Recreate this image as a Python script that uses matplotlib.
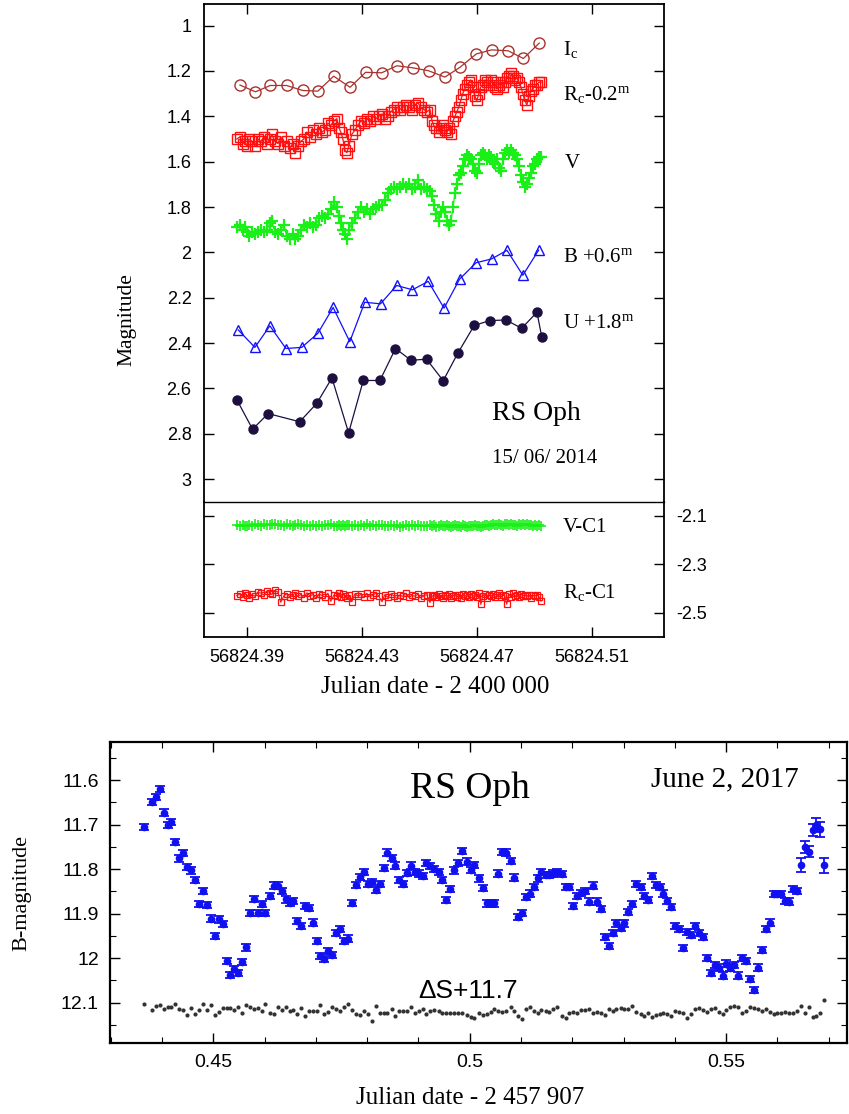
import matplotlib
matplotlib.use("Agg")
import matplotlib.pyplot as plt
from matplotlib.ticker import MultipleLocator, FixedLocator, FuncFormatter, FormatStrFormatter

plt.rcParams['font.family'] = ['Liberation Sans', 'DejaVu Sans']
plt.rcParams['axes.unicode_minus'] = False
plt.rcParams['mathtext.fontset'] = 'custom'
plt.rcParams['mathtext.rm'] = 'Liberation Serif'
plt.rcParams['mathtext.it'] = 'Liberation Serif:italic'
plt.rcParams['mathtext.bf'] = 'Liberation Serif:bold'
SERIF = ['Liberation Serif', 'DejaVu Serif']

# ---- RS Oph, 15/06/2014 : times are JD - 2456824 ----
JD0 = 56824.0

t_ic = [0.3877, 0.3931, 0.3982, 0.4039, 0.4095, 0.4148, 0.4203, 0.4260, 0.4314, 0.4370,
        0.4423, 0.4478, 0.4533, 0.4590, 0.4642, 0.4699, 0.4752, 0.4810, 0.4863, 0.4918]
ic = [1.262, 1.292, 1.264, 1.264, 1.286, 1.289, 1.223, 1.272, 1.206, 1.208,
      1.177, 1.186, 1.199, 1.227, 1.184, 1.125, 1.107, 1.111, 1.145, 1.077]

t_b = [0.3871, 0.3929, 0.3981, 0.4037, 0.4092, 0.4148, 0.4201, 0.4259, 0.4311, 0.4366,
       0.4422, 0.4477, 0.4532, 0.4587, 0.4641, 0.4698, 0.4752, 0.4806, 0.4861, 0.4916]
b_shift = [2.342, 2.419, 2.324, 2.424, 2.419, 2.357, 2.243, 2.394, 2.220, 2.227,
           2.146, 2.165, 2.128, 2.246, 2.118, 2.046, 2.029, 1.991, 2.101, 1.990]

t_u = [0.3867, 0.3921, 0.3975, 0.4085, 0.4144, 0.4197, 0.4255, 0.4306, 0.4364, 0.4418,
       0.4472, 0.4526, 0.4584, 0.4636, 0.4692, 0.4746, 0.4802, 0.4857, 0.4910, 0.4927]
u_shift = [2.652, 2.780, 2.711, 2.747, 2.666, 2.554, 2.796, 2.565, 2.565, 2.424,
           2.476, 2.471, 2.566, 2.442, 2.322, 2.301, 2.298, 2.335, 2.264, 2.374]

# dense Rc / V photometry (same time stamps)
t_rv = [0.3866, 0.3877, 0.3887, 0.3894, 0.3901, 0.3908, 0.3918, 0.3929, 0.3939, 0.3950,
        0.3960, 0.3971, 0.3981, 0.3988, 0.3998, 0.4009, 0.4019, 0.4030, 0.4040, 0.4051,
        0.4061, 0.4068, 0.4078, 0.4089, 0.4099, 0.4110, 0.4120, 0.4131, 0.4141, 0.4152,
        0.4162, 0.4172, 0.4183, 0.4193, 0.4204, 0.4214, 0.4221, 0.4228, 0.4235, 0.4242,
        0.4249, 0.4256, 0.4266, 0.4277, 0.4287, 0.4298, 0.4308, 0.4318, 0.4329, 0.4339,
        0.4350, 0.4360, 0.4371, 0.4381, 0.4391, 0.4402, 0.4412, 0.4423, 0.4433, 0.4444,
        0.4454, 0.4465, 0.4475, 0.4485, 0.4496, 0.4506, 0.4517, 0.4527, 0.4538, 0.4545,
        0.4551, 0.4558, 0.4569, 0.4576, 0.4583, 0.4590, 0.4597, 0.4604, 0.4611, 0.4618,
        0.4625, 0.4631, 0.4638, 0.4645, 0.4652, 0.4659, 0.4666, 0.4673, 0.4680, 0.4687,
        0.4694, 0.4701, 0.4708, 0.4715, 0.4722, 0.4729, 0.4736, 0.4743, 0.4750, 0.4757,
        0.4764, 0.4771, 0.4778, 0.4785, 0.4792, 0.4798, 0.4805, 0.4812, 0.4819, 0.4826,
        0.4833, 0.4840, 0.4847, 0.4854, 0.4861, 0.4868, 0.4875, 0.4882, 0.4889, 0.4896,
        0.4903, 0.4910, 0.4917, 0.4924]
rc_shift = [1.50, 1.49, 1.52, 1.51, 1.53, 1.50, 1.51, 1.53, 1.50, 1.51,
            1.49, 1.52, 1.50, 1.48, 1.51, 1.52, 1.49, 1.53, 1.51, 1.54,
            1.52, 1.56, 1.53, 1.51, 1.50, 1.47, 1.49, 1.46, 1.48, 1.45,
            1.47, 1.46, 1.43, 1.44, 1.42, 1.41, 1.45, 1.47, 1.50, 1.55,
            1.56, 1.53, 1.48, 1.46, 1.44, 1.42, 1.43, 1.41, 1.42, 1.40,
            1.41, 1.40, 1.39, 1.41, 1.40, 1.38, 1.37, 1.36, 1.37, 1.36,
            1.35, 1.36, 1.37, 1.35, 1.34, 1.36, 1.37, 1.38, 1.37, 1.42,
            1.44, 1.45, 1.47, 1.45, 1.44, 1.46, 1.47, 1.45, 1.48, 1.42,
            1.40, 1.38, 1.36, 1.33, 1.30, 1.28, 1.26, 1.25, 1.24, 1.27,
            1.31, 1.33, 1.30, 1.27, 1.26, 1.24, 1.25, 1.26, 1.24, 1.25,
            1.27, 1.28, 1.26, 1.25, 1.27, 1.25, 1.23, 1.22, 1.21, 1.22,
            1.24, 1.23, 1.25, 1.27, 1.30, 1.33, 1.35, 1.31, 1.29, 1.28,
            1.26, 1.26, 1.25, 1.25]
v = [1.89, 1.88, 1.90, 1.89, 1.91, 1.93, 1.91, 1.92, 1.91, 1.90,
     1.91, 1.90, 1.87, 1.86, 1.91, 1.92, 1.90, 1.88, 1.93, 1.94,
     1.92, 1.94, 1.93, 1.90, 1.88, 1.89, 1.87, 1.89, 1.88, 1.85,
     1.84, 1.85, 1.83, 1.81, 1.78, 1.80, 1.84, 1.87, 1.90, 1.92,
     1.94, 1.90, 1.87, 1.85, 1.82, 1.80, 1.82, 1.81, 1.83, 1.81,
     1.80, 1.79, 1.79, 1.77, 1.74, 1.72, 1.71, 1.72, 1.71, 1.70,
     1.71, 1.70, 1.72, 1.71, 1.68, 1.72, 1.71, 1.72, 1.73, 1.75,
     1.79, 1.83, 1.86, 1.82, 1.80, 1.82, 1.86, 1.88, 1.86, 1.80,
     1.74, 1.70, 1.66, 1.65, 1.62, 1.59, 1.57, 1.58, 1.59, 1.61,
     1.64, 1.65, 1.61, 1.57, 1.56, 1.57, 1.59, 1.57, 1.58, 1.60,
     1.61, 1.59, 1.63, 1.64, 1.59, 1.56, 1.55, 1.56, 1.55, 1.56,
     1.57, 1.59, 1.62, 1.66, 1.69, 1.71, 1.70, 1.67, 1.65, 1.62,
     1.61, 1.59, 1.58, 1.58]

v_c1 = [-2.140, -2.143, -2.138, -2.142, -2.145, -2.139, -2.141, -2.136, -2.138, -2.142,
        -2.135, -2.137, -2.140, -2.136, -2.134, -2.139, -2.137, -2.141, -2.135, -2.138,
        -2.142, -2.139, -2.136, -2.140, -2.143, -2.138, -2.141, -2.137, -2.144, -2.139,
        -2.142, -2.138, -2.140, -2.136, -2.141, -2.145, -2.139, -2.142, -2.138, -2.143,
        -2.140, -2.137, -2.141, -2.139, -2.144, -2.138, -2.141, -2.136, -2.142, -2.139,
        -2.145, -2.140, -2.137, -2.141, -2.143, -2.138, -2.142, -2.140, -2.146, -2.141,
        -2.139, -2.144, -2.140, -2.143, -2.138, -2.141, -2.145, -2.142, -2.139, -2.143,
        -2.140, -2.146, -2.142, -2.138, -2.141, -2.144, -2.140, -2.143, -2.147, -2.141,
        -2.139, -2.144, -2.142, -2.146, -2.140, -2.143, -2.148, -2.141, -2.145, -2.142,
        -2.139, -2.144, -2.141, -2.146, -2.143, -2.140, -2.138, -2.142, -2.139, -2.136,
        -2.140, -2.137, -2.135, -2.139, -2.141, -2.136, -2.133, -2.138, -2.135, -2.140,
        -2.137, -2.141, -2.134, -2.138, -2.136, -2.139, -2.135, -2.140, -2.137, -2.141,
        -2.139, -2.142, -2.140, -2.143]
rc_c1 = [-2.430, -2.422, -2.435, -2.418, -2.428, -2.440, -2.425, -2.432, -2.415, -2.420,
         -2.427, -2.410, -2.418, -2.425, -2.408, -2.415, -2.457, -2.430, -2.422, -2.436,
         -2.428, -2.420, -2.433, -2.425, -2.438, -2.418, -2.430, -2.426, -2.441, -2.423,
         -2.429, -2.435, -2.420, -2.453, -2.427, -2.432, -2.418, -2.436, -2.425, -2.430,
         -2.440, -2.428, -2.455, -2.422, -2.431, -2.425, -2.437, -2.420, -2.434, -2.429,
         -2.418, -2.432, -2.455, -2.426, -2.436, -2.423, -2.430, -2.441, -2.427, -2.433,
         -2.420, -2.437, -2.429, -2.432, -2.424, -2.439, -2.430, -2.426, -2.458, -2.433,
         -2.428, -2.436, -2.422, -2.431, -2.440, -2.427, -2.433, -2.425, -2.438, -2.430,
         -2.426, -2.435, -2.429, -2.441, -2.424, -2.432, -2.428, -2.437, -2.423, -2.431,
         -2.429, -2.436, -2.418, -2.466, -2.430, -2.422, -2.438, -2.426, -2.433, -2.424,
         -2.437, -2.429, -2.420, -2.435, -2.428, -2.431, -2.465, -2.425, -2.434, -2.419,
         -2.432, -2.428, -2.437, -2.423, -2.430, -2.426, -2.433, -2.427, -2.438, -2.429,
         -2.431, -2.426, -2.434, -2.452]

# ---- RS Oph, June 2, 2017 : times are JD - 2457907 ----
t_b17 = [0.43656, 0.43799, 0.43877, 0.43955, 0.44032, 0.44110, 0.44175, 0.44253, 0.44338, 0.44416,
         0.44494, 0.44565, 0.44649, 0.44721, 0.44799, 0.44877, 0.44955, 0.45032, 0.45104, 0.45182,
         0.45260, 0.45331, 0.45409, 0.45487, 0.45565, 0.45630, 0.45714, 0.45792, 0.45870, 0.45948,
         0.46019, 0.46097, 0.46175, 0.46253, 0.46331, 0.46409, 0.46487, 0.46558, 0.46630, 0.46708,
         0.46786, 0.46864, 0.46942, 0.47020, 0.47084, 0.47169, 0.47247, 0.47325, 0.47403, 0.47481,
         0.47558, 0.47630, 0.47708, 0.47786, 0.47864, 0.47942, 0.48013, 0.48091, 0.48169, 0.48247,
         0.48325, 0.48396, 0.48481, 0.48552, 0.48623, 0.48701, 0.48779, 0.48857, 0.48935, 0.49013,
         0.49084, 0.49149, 0.49227, 0.49305, 0.49396, 0.49468, 0.49545, 0.49623, 0.49701, 0.49779,
         0.49857, 0.49942, 0.50019, 0.50084, 0.50182, 0.50260, 0.50331, 0.50409, 0.50474, 0.50558,
         0.50636, 0.50701, 0.50799, 0.50864, 0.50948, 0.51013, 0.51104, 0.51175, 0.51253, 0.51331,
         0.51396, 0.51481, 0.51545, 0.51630, 0.51708, 0.51792, 0.51870, 0.51935, 0.52020, 0.52097,
         0.52162, 0.52240, 0.52325, 0.52403, 0.52487, 0.52565, 0.52636, 0.52714, 0.52792, 0.52857,
         0.52942, 0.53013, 0.53091, 0.53169, 0.53247, 0.53331, 0.53396, 0.53474, 0.53545, 0.53623,
         0.53701, 0.53773, 0.53851, 0.53929, 0.54000, 0.54078, 0.54156, 0.54240, 0.54318, 0.54390,
         0.54468, 0.54545, 0.54617, 0.54695, 0.54773, 0.54857, 0.54935, 0.55006, 0.55084, 0.55162,
         0.55234, 0.55312, 0.55390, 0.55461, 0.55539, 0.55617, 0.55701, 0.55779, 0.55851, 0.55929,
         0.55994, 0.56071, 0.56156, 0.56234, 0.56305, 0.56383, 0.56461, 0.56532, 0.56610, 0.56688,
         0.56760, 0.56838, 0.56916]
b17 = [11.706, 11.649, 11.639, 11.620, 11.673, 11.701, 11.695, 11.739, 11.776, 11.764,
       11.795, 11.803, 11.825, 11.878, 11.850, 11.881, 11.911, 11.950, 11.913, 11.924,
       12.006, 12.038, 12.024, 12.033, 12.009, 11.976, 11.898, 11.867, 11.898, 11.878,
       11.899, 11.860, 11.837, 11.837, 11.849, 11.868, 11.875, 11.871, 11.916, 11.927,
       11.882, 11.888, 11.920, 11.962, 11.995, 12.001, 11.984, 11.993, 11.944, 11.935,
       11.962, 11.956, 11.876, 11.836, 11.817, 11.807, 11.833, 11.829, 11.847, 11.834,
       11.798, 11.763, 11.775, 11.792, 11.825, 11.833, 11.808, 11.792, 11.807, 11.810,
       11.816, 11.786, 11.793, 11.800, 11.806, 11.825, 11.870, 11.844, 11.803, 11.786,
       11.759, 11.783, 11.802, 11.791, 11.821, 11.843, 11.877, 11.877, 11.877, 11.810,
       11.761, 11.763, 11.781, 11.819, 11.907, 11.898, 11.862, 11.855, 11.840, 11.821,
       11.806, 11.813, 11.813, 11.810, 11.806, 11.811, 11.840, 11.840, 11.883, 11.860,
       11.853, 11.849, 11.873, 11.837, 11.873, 11.890, 11.953, 11.973, 11.944, 11.922,
       11.932, 11.922, 11.897, 11.878, 11.834, 11.840, 11.860, 11.870, 11.815, 11.836,
       11.840, 11.855, 11.872, 11.885, 11.928, 11.935, 11.977, 11.942, 11.948, 11.927,
       11.944, 11.953, 11.999, 12.034, 12.015, 12.021, 12.039, 12.012, 12.021, 12.015,
       12.039, 12.000, 12.006, 12.047, 12.072, 12.021, 11.982, 11.935, 11.920, 11.856,
       11.856, 11.856, 11.871, 11.873, 11.845, 11.849, 11.791, 11.751, 11.761, 11.712,
       11.701, 11.711, 11.791]
b17_err = [0.007] * 166 + [0.015, 0.013, 0.012, 0.014, 0.015, 0.017, 0.017]
ds = [12.102, 12.117, 12.107, 12.106, 12.113, 12.109, 12.109, 12.102, 12.113, 12.117,
      12.128, 12.111, 12.125, 12.117, 12.103, 12.117, 12.106, 12.128, 12.120, 12.111,
      12.111, 12.111, 12.117, 12.109, 12.122, 12.104, 12.109, 12.113, 12.111, 12.118,
      12.103, 12.122, 12.125, 12.109, 12.117, 12.109, 12.118, 12.117, 12.126, 12.111,
      12.129, 12.118, 12.118, 12.119, 12.105, 12.125, 12.121, 12.109, 12.113, 12.118,
      12.109, 12.102, 12.117, 12.125, 12.127, 12.119, 12.125, 12.140, 12.107, 12.122,
      12.122, 12.122, 12.115, 12.129, 12.119, 12.119, 12.119, 12.109, 12.124, 12.118,
      12.113, 12.125, 12.118, 12.117, 12.118, 12.122, 12.122, 12.122, 12.122, 12.122,
      12.122, 12.128, 12.133, 12.135, 12.122, 12.128, 12.126, 12.120, 12.113, 12.118,
      12.120, 12.119, 12.109, 12.118, 12.129, 12.137, 12.115, 12.109, 12.119, 12.122,
      12.117, 12.118, 12.120, 12.115, 12.109, 12.129, 12.135, 12.122, 12.120, 12.124,
      12.117, 12.117, 12.113, 12.122, 12.120, 12.122, 12.128, 12.115, 12.119, 12.115,
      12.111, 12.113, 12.115, 12.107, 12.120, 12.125, 12.130, 12.124, 12.131, 12.128,
      12.126, 12.124, 12.125, 12.129, 12.118, 12.120, 12.122, 12.135, 12.125, 12.115,
      12.111, 12.117, 12.120, 12.113, 12.111, 12.120, 12.126, 12.117, 12.109, 12.107,
      12.109, 12.124, 12.119, 12.109, 12.111, 12.113, 12.119, 12.115, 12.120, 12.125,
      12.124, 12.122, 12.120, 12.122, 12.124, 12.119, 12.107, 12.124, 12.109, 12.131,
      12.130, 12.122, 12.095]

jd_top = lambda ts: [JD0 + x for x in ts]
gfmt = FuncFormatter(lambda val, pos: f"{val:g}")

fig = plt.figure(figsize=(8.49, 11.14), dpi=100)

# ---- upper panel: light curves ----
ax1 = fig.add_axes([0.2403, 0.5497, 0.5418, 0.4468])
ax1.plot(jd_top(t_ic), ic, '-o', color='#a8322d', mfc='none', ms=8, mew=1.0, lw=0.9)
ax1.plot(jd_top(t_rv), rc_shift, '-s', color='#ff1010', mfc='none', ms=6.5, mew=1.0, lw=0.9)
ax1.plot(jd_top(t_rv), v, '-+', color='#18f018', ms=8, mew=1.6, lw=0.9)
ax1.plot(jd_top(t_b), b_shift, '-^', color='#1010ff', mfc='none', ms=7, mew=1.0, lw=0.9)
ax1.plot(jd_top(t_u), u_shift, '-o', color='#1d1040', ms=6.5, lw=0.9)
ax1.set_xlim(56824.3752, 56824.5352)
ax1.set_ylim(3.0993, 0.9042)
ax1.set_xticks([56824.39, 56824.43, 56824.47, 56824.51])
ax1.yaxis.set_major_locator(MultipleLocator(0.2))
ax1.yaxis.set_major_formatter(gfmt)
ax1.tick_params(direction='in', length=7, width=1, top=True, bottom=False, labelbottom=False,
                left=True, right=True, labelsize=13, pad=9)
for s in ['top', 'left', 'right']:
    ax1.spines[s].set_linewidth(1.3)
ax1.spines['bottom'].set_visible(False)

lab = dict(transform=ax1.transAxes, family=SERIF, fontsize=15, va='baseline')
ax1.text(0.780, 0.8975, r'I$_{\rm c}$', **lab)
ax1.text(0.780, 0.807, r'R$_{\rm c}$-0.2$^{\rm m}$', **lab)
ax1.text(0.785, 0.670, 'V', **lab)
ax1.text(0.780, 0.482, r'B +0.6$^{\rm m}$', **lab)
ax1.text(0.780, 0.349, r'U +1.8$^{\rm m}$', **lab)
ax1.text(0.626, 0.164, 'RS Oph', transform=ax1.transAxes, family=SERIF, fontsize=20, va='baseline')
ax1.text(0.626, 0.078, '15/ 06/ 2014', transform=ax1.transAxes, family=SERIF, fontsize=15,
         va='baseline')

# ---- comparison stars ----
ax2 = fig.add_axes([0.2403, 0.4282, 0.5418, 0.1215], sharex=ax1)
ax2.plot(jd_top(t_rv), v_c1, '-+', color='#18f018', ms=6.5, mew=1.2, lw=0.8)
ax2.plot(jd_top(t_rv), rc_c1, '-s', color='#ff1010', mfc='none', ms=4.5, mew=0.9, lw=0.8)
ax2.set_ylim(-2.600, -2.0426)
ax2.yaxis.set_major_locator(FixedLocator([-2.1, -2.3, -2.5]))
ax2.yaxis.set_major_formatter(gfmt)
ax2.xaxis.set_major_formatter(FormatStrFormatter('%.2f'))
ax2.tick_params(direction='in', length=7, width=1, top=False, bottom=True, labelbottom=True,
                left=True, right=True, labelleft=False, labelright=True, labelsize=13, pad=9)
for s in ['bottom', 'left', 'right']:
    ax2.spines[s].set_linewidth(1.3)
ax2.spines['top'].set_linewidth(1.0)
lab2 = dict(transform=ax2.transAxes, family=SERIF, fontsize=15, va='baseline')
ax2.text(0.780, 0.776, 'V-C1', **lab2)
ax2.text(0.780, 0.288, r'R$_{\rm c}$-C1', **lab2)

fig.text(0.1496, 0.7127, 'Magnitude', rotation=90, ha='center', va='center', family=SERIF,
         fontsize=15.5)
fig.text(0.5124, 0.3833, 'Julian date - 2 400 000', ha='center', va='center', family=SERIF,
         fontsize=18)

# ---- bottom panel: B band 2017 ----
ax3 = fig.add_axes([0.1296, 0.0635, 0.8686, 0.2707])
ax3.errorbar(t_b17, b17, yerr=b17_err, fmt='o', color='#1010f0', ms=4.5, capsize=3.5,
             elinewidth=1.3, capthick=1.3)
ax3.plot(t_b17, ds, 'o', color='#333333', ms=3, mew=0)
ax3.set_xlim(0.42988, 0.57365)
ax3.set_ylim(12.191, 11.514)
ax3.xaxis.set_major_locator(MultipleLocator(0.05))
ax3.xaxis.set_minor_locator(MultipleLocator(0.01))
ax3.yaxis.set_major_locator(MultipleLocator(0.1))
ax3.yaxis.set_minor_locator(MultipleLocator(0.05))
ax3.xaxis.set_major_formatter(gfmt)
ax3.yaxis.set_major_formatter(gfmt)
ax3.tick_params(which='both', direction='in', top=True, right=True, labelsize=14, pad=8)
ax3.tick_params(which='major', length=7, width=1)
ax3.tick_params(which='minor', length=4, width=0.8)
for s in ax3.spines.values():
    s.set_linewidth(1.6)
ax3.text(0.4065, 0.813, 'RS Oph', transform=ax3.transAxes, family=SERIF, fontsize=27,
         va='baseline')
ax3.text(0.734, 0.853, 'June 2, 2017', transform=ax3.transAxes, family=SERIF, fontsize=21,
         va='baseline')
ax3.text(0.418, 0.150, '\u0394S+11.7', transform=ax3.transAxes, fontsize=19, va='baseline')

fig.text(0.0259, 0.1984, 'B-magnitude', rotation=90, ha='center', va='center', family=SERIF,
         fontsize=16)
fig.text(0.5536, 0.0144, 'Julian date - 2 457 907', ha='center', va='center', family=SERIF,
         fontsize=18)

fig.savefig('out.png', dpi=100)
